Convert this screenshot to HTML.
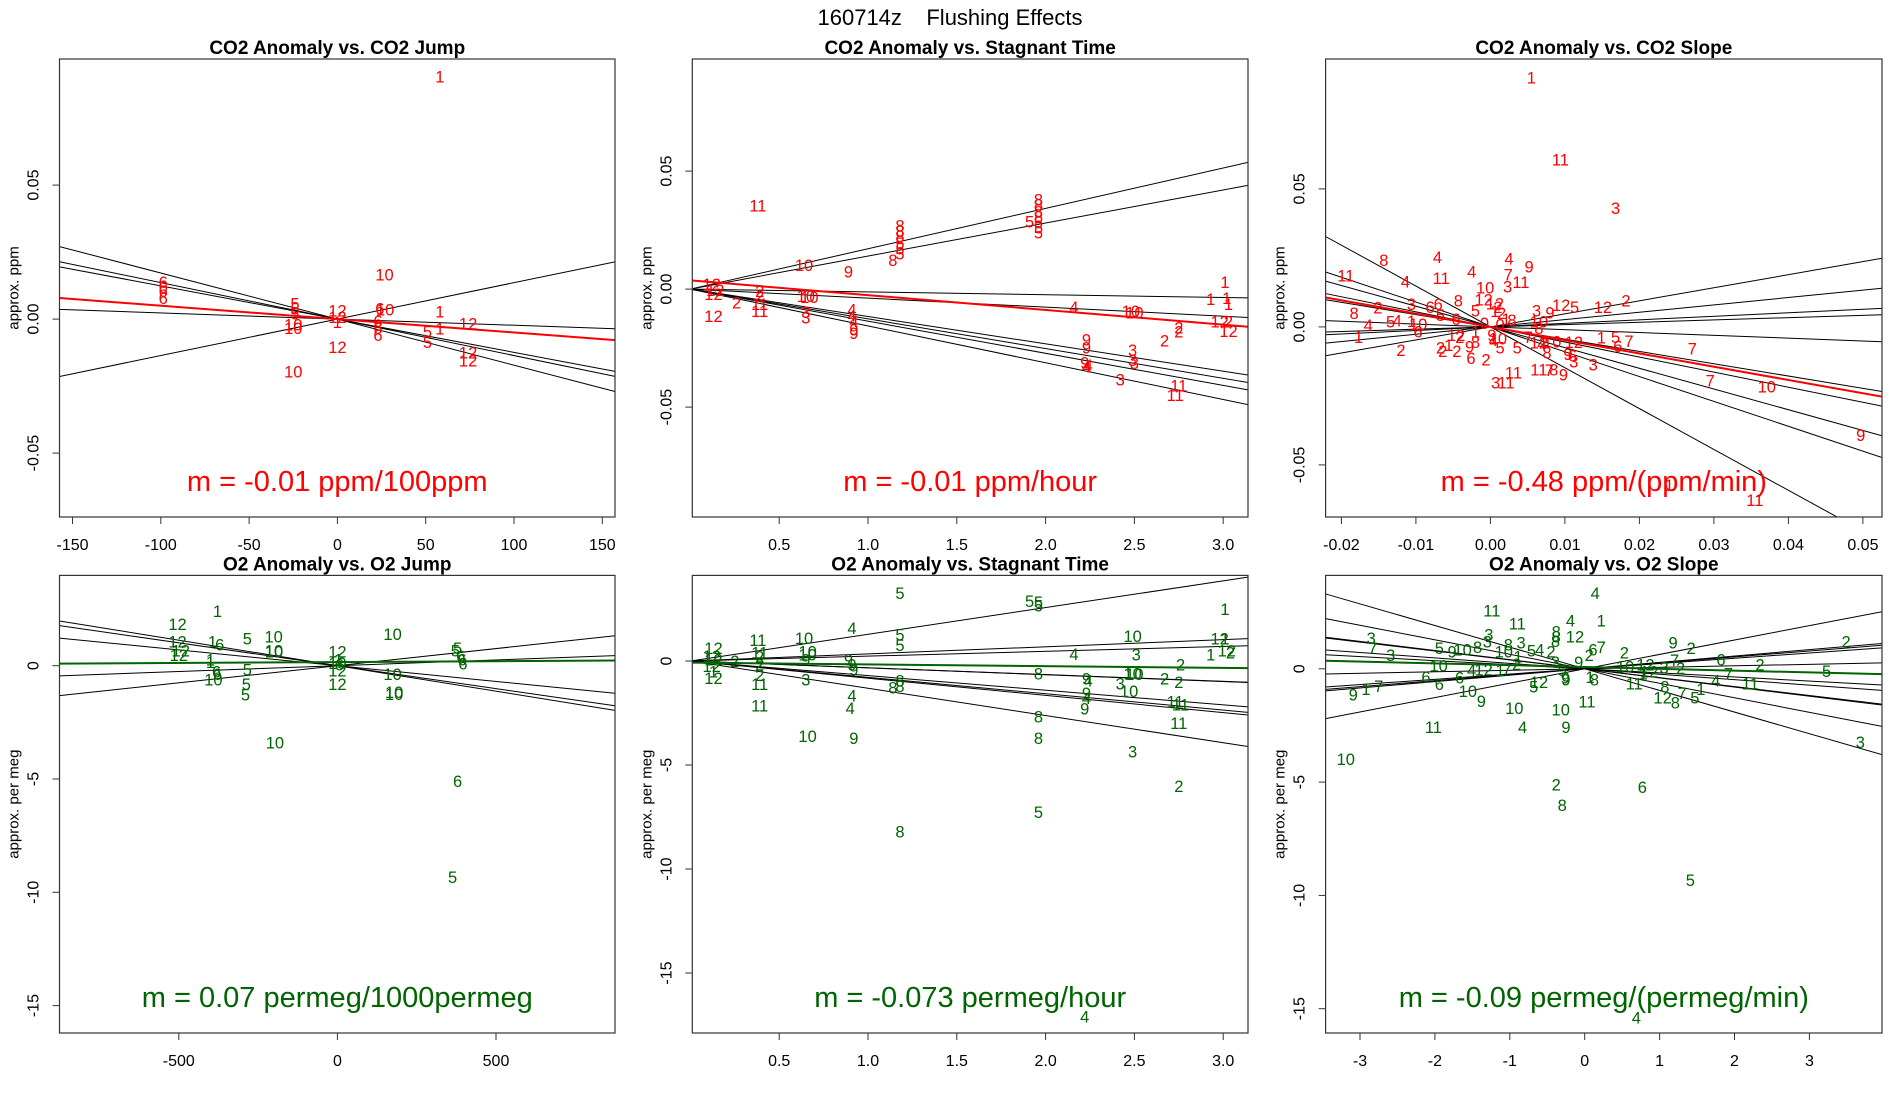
<!DOCTYPE html>
<html><head><meta charset="utf-8">
<style>
html,body{margin:0;padding:0;background:#fff;}
svg{display:block;font-family:"Liberation Sans",sans-serif;}
</style></head>
<body>
<svg id="chart" width="1900" height="1100" viewBox="0 0 1900 1100" xmlns="http://www.w3.org/2000/svg">
<text x="950" y="25" font-size="22" text-anchor="middle" style="white-space:pre" xml:space="preserve">160714z    Flushing Effects</text>
</svg>
<script>
// ---------- Panel 1: CO2 Anomaly vs. CO2 Jump ----------
const p1X=[58,26.7,-98.6,-98.6,-98.6,-98.6,-24,-24,-24,-25,-25,0,0,0,24,27,23,23,23,51,51,58,58,74,74,74,0,-25];
const p1Y=[0.0905,0.0167,0.0138,0.012,0.0105,0.0079,0.0059,0.0039,0.002,-0.002,-0.0033,0.0033,0.0007,-0.001,0.004,0.0035,-0.0007,-0.0033,-0.006,-0.0046,-0.0086,0.0029,-0.0036,-0.0017,-0.0125,-0.0155,-0.0105,-0.0195];
const p1L=["1","10","6","6","6","6","5","5","5","10","10","12","12","1","6","10","6","6","6","5","5","1","1","12","12","12","12","10"];
const p1Slopes=[-0.000172,-0.000136,-0.000124,-0.000023,0.000136];
const p1Fit=[-0.00005,0];
const p1XTicks=[-150,-100,-50,0,50,100,150];
const p1YTicks=[-0.05,0,0.05];
const p1YTickLabels=["-0.05","0.00","0.05"];

// ---------- Panel 2: CO2 Anomaly vs. Stagnant Time ----------
const p2X=[0.38,0.64,0.89,1.14,1.18,1.18,1.18,1.18,1.18,1.18,1.91,1.96,1.96,1.96,1.96,1.96,1.96,1.96,3.01,2.93,3.02,3.03,2.16,2.48,2.5,2.98,3.03,3.03,2.75,2.75,2.67,2.23,2.23,2.22,2.24,2.23,2.49,2.49,2.5,2.42,2.75,2.73,0.91,0.91,0.92,0.92,0.92,0.65,0.65,0.65,0.67,0.39,0.39,0.26,0.39,0.39,0.13,0.12,0.14,0.13];
const p2Y=[0.0355,0.0102,0.0075,0.0124,0.027,0.0247,0.0225,0.0195,0.0172,0.015,0.0287,0.0379,0.0359,0.0329,0.0307,0.0284,0.0262,0.024,0.003,-0.0042,-0.0037,-0.0063,-0.0075,-0.0093,-0.0099,-0.0138,-0.0138,-0.0177,-0.0162,-0.018,-0.0217,-0.0214,-0.0247,-0.0311,-0.0322,-0.0329,-0.0259,-0.03,-0.0314,-0.0382,-0.0409,-0.0449,-0.0087,-0.0112,-0.0135,-0.0172,-0.0187,-0.0097,-0.012,-0.003,-0.0034,-0.0007,-0.003,-0.0057,-0.0063,-0.0093,-0.0115,0.0022,-0.0004,-0.002];
const p2L=["11","10","9","8","8","8","8","5","5","5","5","8","8","8","8","5","5","5","1","1","1","1","4","10","10","12","2","12","2","2","2","9","9","9","4","4","3","3","3","3","11","11","4","4","4","9","9","3","3","10","10","2","2","2","11","11","12","12","12","12"];
const p2Slopes=[0.0171,0.0140,-0.00118,-0.00383,-0.0116,-0.0126,-0.0136,-0.0156];
const p2Fit=[-0.00626,0.0037];
const p2XTicks=[0.5,1.0,1.5,2.0,2.5,3.0];
const p2XTickLabels=["0.5","1.0","1.5","2.0","2.5","3.0"];
const p2YTicks=[-0.05,0,0.05];
const p2YTickLabels=["-0.05","0.00","0.05"];

// ---------- Panel 3: CO2 Anomaly vs. CO2 Slope ----------
const p3X=[0.0055,0.0094,0.0168,-0.0143,-0.0071,0.0025,0.0052,-0.0194,-0.0114,-0.0066,-0.0025,0.0024,-0.0007,0.0023,0.0041,-0.0009,-0.0043,-0.0106,-0.0081,-0.007,-0.0151,-0.0183,-0.0067,-0.0046,-0.002,-0.0164,-0.0134,-0.0125,-0.0106,-0.0097,-0.0097,-0.0177,-0.012,-0.0067,-0.0064,-0.0056,-0.0045,-0.0046,-0.0041,-0.0028,-0.002,-0.0026,-0.0006,-0.002,-0.0008,0.0006,0.001,0.0006,0.0015,0.0029,0.0021,0.0013,0.0002,0.001,0.0004,0.0013,0.0036,0.0062,0.008,0.0095,0.0113,0.0151,0.0182,0.0065,0.0065,0.0051,0.0065,0.0069,0.0083,0.0076,0.0112,0.0104,0.011,0.0112,0.0138,0.0031,0.0007,0.0021,0.0065,0.0079,0.0085,0.0098,0.0149,0.0168,0.0186,0.0171,0.0271,0.0295,0.0371,0.0497,0.024,0.0355];
const p3Y=[0.0903,0.0607,0.0431,0.0242,0.0254,0.0248,0.0219,0.0187,0.0165,0.0178,0.02,0.019,0.0142,0.0146,0.0162,0.01,0.0095,0.0083,0.0073,0.0083,0.007,0.005,0.0043,0.0028,0.006,0.0006,0.0019,0.0024,0.0022,0.0011,-0.0017,-0.0036,-0.0084,-0.0074,-0.0087,-0.0065,-0.0087,-0.0029,-0.0036,-0.0071,-0.0055,-0.0112,-0.0118,-0.0017,0.0015,0.0085,0.0073,0.0057,0.005,0.0025,0.0028,0.0009,-0.0029,-0.0042,-0.0048,-0.0074,-0.0074,0.006,0.0053,0.0079,0.0073,0.0073,0.0095,0.0019,-0.0004,-0.0036,-0.0057,-0.0061,-0.0052,-0.0093,-0.0055,-0.0099,-0.0103,-0.0125,-0.0137,-0.0166,-0.0201,-0.0201,-0.0154,-0.0156,-0.0154,-0.0172,-0.0038,-0.0036,-0.0051,-0.007,-0.0078,-0.0195,-0.0216,-0.0392,-0.0573,-0.0627];
const p3L=["1","11","3","8","4","4","9","11","4","11","4","7","10","3","11","12","8","3","6","6","2","8","5","6","5","4","5","4","1","10","6","1","2","2","2","1","2","12","2","9","8","6","2","1","0","12","2","1","2","8","1","0","9","10","4","5","5","3","9","12","5","12","2","10","8","7","12","4","10","8","12","9","6","3","3","11","3","11","11","7","8","9","1","5","7","6","7","7","10","9","1","11"];
const p3Slopes=[0.473,0.266,0.128,0.084,-0.102,-0.445,-0.546,-0.75,-0.9,-1.48];
const p3Fit=[-0.481,0];
const p3XTicks=[-0.02,-0.01,0,0.01,0.02,0.03,0.04,0.05];
const p3XTickLabels=["-0.02","-0.01","0.00","0.01","0.02","0.03","0.04","0.05"];
const p3YTicks=[-0.05,0,0.05];
const p3YTickLabels=["-0.05","0.00","0.05"];

// ---------- Panel 4: O2 Anomaly vs. O2 Jump ----------
const p4X=[-378,-504,-504,-494,-500,-394,-371,-400,-400,-381,-378,-391,-284,-284,-287,-290,-201,-200,-200,174,0,3,0,6,0,0,174,179,179,-197,379,372,389,393,396,379,363];
const p4Y=[2.41,1.83,1.06,0.67,0.47,1.06,0.93,0.28,0.16,-0.26,-0.37,-0.62,1.21,-0.16,-0.81,-1.27,1.29,0.67,0.62,1.4,0.62,0.28,0.12,0.05,-0.22,-0.81,-0.37,-1.16,-1.24,-3.4,0.78,0.67,0.43,0.28,0.09,-5.08,-9.32];
const p4L=["1","12","12","12","12","1","6","1","1","6","6","10","5","5","5","5","10","10","10","10","12","1","10","6","12","12","10","10","10","10","5","5","6","6","6","6","5"];
const p4Slopes=[-0.00225,-0.00202,-0.00139,0.00051,0.00151];
const p4Fit=[0.00008,0.16];
const p4XTicks=[-500,0,500];
const p4YTicks=[-15,-10,-5,0];

// ---------- Panel 5: O2 Anomaly vs. Stagnant Time ----------
const p5X=[1.18,1.91,1.96,1.96,3.01,0.91,0.38,0.64,1.18,1.18,2.49,0.13,0.39,0.66,0.66,3.01,2.98,3.02,3.04,2.93,2.16,2.51,0.12,0.13,0.25,0.12,0.13,0.13,0.39,0.39,0.39,0.65,0.89,0.91,0.92,0.65,0.39,0.39,1.96,2.76,2.23,2.24,2.49,2.5,2.42,2.67,2.75,1.18,1.18,1.14,2.47,2.23,2.23,2.22,2.73,2.76,2.75,0.91,0.9,1.96,0.66,0.92,1.96,2.49,2.75,1.96,1.18,2.22];
const p5Y=[3.27,2.88,2.83,2.66,2.49,1.58,1.02,1.1,1.27,0.76,1.19,0.63,0.42,0.46,0.32,1.07,1.07,0.51,0.42,0.31,0.34,0.31,0.25,0.08,0,-0.25,-0.51,-0.81,0.22,-0.17,-0.68,0.08,0.08,-0.17,-0.42,-0.9,-1.1,-2.15,-0.59,-0.17,-0.85,-0.93,-0.59,-0.63,-1.07,-0.85,-1.02,-0.93,-1.19,-1.27,-1.44,-1.53,-1.78,-2.29,-1.95,-2.08,-2.97,-1.66,-2.25,-2.66,-3.61,-3.69,-3.69,-4.36,-6.02,-7.25,-8.19,-17.1];
const p5L=["5","5","5","5","1","4","11","10","5","5","10","12","11","10","10","1","12","12","2","1","4","3","12","12","2","12","1","12","2","2","2","9","9","9","9","3","11","11","8","2","9","4","10","10","3","2","2","8","8","8","10","9","4","9","11","11","11","4","4","8","10","9","8","3","2","5","8","4"];
const p5Slopes=[1.284,0.342,0.233,-0.326,-0.33,-0.703,-0.786,-0.827,-1.31];
const p5Fit=[-0.083,-0.08];
const p5XTicks=[0.5,1.0,1.5,2.0,2.5,3.0];
const p5XTickLabels=["0.5","1.0","1.5","2.0","2.5","3.0"];
const p5YTicks=[-15,-10,-5,0];

// ---------- Panel 6: O2 Anomaly vs. O2 Slope ----------
const p6X=[0.14,-1.24,-0.9,-0.19,0.22,-0.38,-0.38,-0.39,-0.13,-2.85,-2.83,-2.59,-1.28,-1.3,-0.85,-1.02,-1.08,-0.89,-1.94,-1.77,-1.63,-1.43,-0.71,-0.6,-0.45,0.11,0.22,0.06,1.18,1.42,0.53,3.49,1.82,2.34,1.2,1.06,1.28,0.81,0.54,-1.95,-1.51,-1.35,-1.13,-1.04,-0.91,-0.39,-0.3,-0.08,-0.26,-0.25,-2.12,-1.94,-1.67,-3.09,-2.92,-2.75,-1.56,-1.38,-0.61,-0.68,-0.94,-0.32,0.03,0.07,0.13,0.66,0.78,0.86,1.07,1.04,1.21,1.3,1.47,1.55,1.75,1.92,2.21,3.23,3.68,-2.02,-0.83,-0.25,-3.19,-0.38,-0.3,0.77,1.41,0.69];
const p6Y=[3.35,2.57,2.01,2.13,2.13,1.64,1.43,1.23,1.43,1.36,0.92,0.61,1.51,1.2,1.15,1.07,0.76,0.55,0.92,0.76,0.86,0.97,0.81,0.86,0.76,0.86,0.97,0.61,1.17,0.92,0.73,1.2,0.42,0.19,0.39,0.06,0.03,0.19,0.11,0.14,-0.05,-0.02,-0.05,-0.02,0.22,0.3,-0.05,0.3,-0.39,-0.47,-0.36,-0.67,-0.39,-1.14,-0.9,-0.75,-0.98,-1.42,-0.59,-0.79,-1.73,-1.79,-1.45,-0.36,-0.48,-0.64,-0.2,-0.12,-0.79,-1.26,-1.48,-1.06,-1.26,-0.9,-0.51,-0.2,-0.64,-0.09,-3.24,-2.57,-2.57,-2.57,-3.99,-5.11,-6.0,-5.22,-9.31,-15.39];
const p6L=["4","11","11","4","1","8","8","8","12","3","7","3","3","3","3","8","10","1","5","9","10","8","5","4","2","6","7","2","9","2","2","2","6","2","7","3","2","12","10","10","4","12","1","7","2","3","5","9","9","9","6","6","6","9","1","7","10","9","12","5","10","10","11","1","8","11","1","12","8","12","8","7","5","1","4","7","11","5","3","11","4","9","10","2","8","6","5","4"];
const p6Slopes=[0.635,0.282,0.262,0.232,0.066,-0.18,-0.24,-0.393,-0.403,-0.64,-0.955];
const p6Fit=[-0.08,0.08];
const p6XTicks=[-3,-2,-1,0,1,2,3];
const p6YTicks=[-15,-10,-5,0];

const NS="http://www.w3.org/2000/svg";
const svg=document.getElementById('chart');
function mk(tag,attrs,parent){const e=document.createElementNS(NS,tag);for(const k in attrs)e.setAttribute(k,attrs[k]);(parent||svg).appendChild(e);return e;}

const panels=[
 {id:'co2-jump',title:'CO2 Anomaly vs. CO2 Jump',x0:59.5,x1:615,y0:59,y1:517,xz:337.4,xs:1.766,yz:319.1,ys:2680,
  X:p1X,Y:p1Y,L:p1L,S:p1Slopes,F:p1Fit,xt:p1XTicks,xtl:p1XTicks.map(String),yt:p1YTicks,ytl:p1YTickLabels,col:'#ff0000',ylab:'approx. ppm',m:'m = -0.01 ppm/100ppm'},
 {id:'co2-stagnant',title:'CO2 Anomaly vs. Stagnant Time',x0:692.3,x1:1248,y0:59,y1:517,xz:690.4,xs:177.6,yz:289.1,ys:2360,
  X:p2X,Y:p2Y,L:p2L,S:p2Slopes,F:p2Fit,xt:p2XTicks,xtl:p2XTickLabels,yt:p2YTicks,ytl:p2YTickLabels,col:'#ff0000',ylab:'approx. ppm',m:'m = -0.01 ppm/hour',xstart:0.01},
 {id:'co2-slope',title:'CO2 Anomaly vs. CO2 Slope',x0:1325.6,x1:1882,y0:59,y1:517,xz:1490.4,xs:7450,yz:326.9,ys:2760,
  X:p3X,Y:p3Y,L:p3L,S:p3Slopes,F:p3Fit,xt:p3XTicks,xtl:p3XTickLabels,yt:p3YTicks,ytl:p3YTickLabels,col:'#ff0000',ylab:'approx. ppm',m:'m = -0.48 ppm/(ppm/min)'},
 {id:'o2-jump',title:'O2 Anomaly vs. O2 Jump',x0:59.5,x1:615,y0:575.4,y1:1033,xz:337.4,xs:0.3172,yz:665.7,ys:22.66,
  X:p4X,Y:p4Y,L:p4L,S:p4Slopes,F:p4Fit,xt:p4XTicks,xtl:p4XTicks.map(String),yt:p4YTicks,ytl:p4YTicks.map(String),col:'#006400',ylab:'approx. per meg',m:'m = 0.07 permeg/1000permeg'},
 {id:'o2-stagnant',title:'O2 Anomaly vs. Stagnant Time',x0:692.3,x1:1248,y0:575.4,y1:1033,xz:690.4,xs:177.6,yz:661,ys:20.8,
  X:p5X,Y:p5Y,L:p5L,S:p5Slopes,F:p5Fit,xt:p5XTicks,xtl:p5XTickLabels,yt:p5YTicks,ytl:p5YTicks.map(String),col:'#006400',ylab:'approx. per meg',m:'m = -0.073 permeg/hour',xstart:0.01},
 {id:'o2-slope',title:'O2 Anomaly vs. O2 Slope',x0:1325.6,x1:1882,y0:575.4,y1:1033,xz:1584.7,xs:74.9,yz:668.8,ys:22.66,
  X:p6X,Y:p6Y,L:p6L,S:p6Slopes,F:p6Fit,xt:p6XTicks,xtl:p6XTicks.map(String),yt:p6YTicks,ytl:p6YTicks.map(String),col:'#006400',ylab:'approx. per meg',m:'m = -0.09 permeg/(permeg/min)'}
];

panels.forEach((p,i)=>{
  const g=mk('g',{});
  
  
  const sx=v=>p.xz+v*p.xs, sy=v=>p.yz-v*p.ys;
  const inv=px=>(px-p.xz)/p.xs;
  const cp=mk('clipPath',{id:'clip'+i},g);
  mk('rect',{x:p.x0,y:p.y0,width:p.x1-p.x0,height:p.y1-p.y0},cp);
  const t=mk('text',{x:(p.x0+p.x1)/2,y:p.y0-5,'font-size':19,'font-weight':'bold','text-anchor':'middle'},g);
  t.textContent=p.title;
  
  
  const pg=mk('g',{'clip-path':'url(#clip'+i+')'},g);
  const xa=p.xstart!==undefined?p.xstart:inv(p.x0), xb=inv(p.x1);
  p.S.forEach(s=>{
    const l=mk('line',{x1:sx(xa),y1:sy(s*xa),x2:sx(xb),y2:sy(s*xb),stroke:'#000','stroke-width':1},pg);
    
    
  });
  const fl=mk('line',{x1:sx(xa),y1:sy(p.F[1]+p.F[0]*xa),x2:sx(xb),y2:sy(p.F[1]+p.F[0]*xb),stroke:p.col,'stroke-width':2},pg);
  
  
  p.X.forEach((v,k)=>{
    const e=mk('text',{x:sx(v),y:sy(p.Y[k])+6,'font-size':16.5,fill:p.col,'text-anchor':'middle'},pg);
    e.textContent=p.L[k];
    
    
  });
  const box=mk('rect',{x:p.x0,y:p.y0,width:p.x1-p.x0,height:p.y1-p.y0,fill:'none',stroke:'#333','stroke-width':1.2},g);
  
  
  p.xt.forEach((v,k)=>{
    mk('line',{x1:sx(v),x2:sx(v),y1:p.y1,y2:p.y1+7,stroke:'#333'},g);
    const e=mk('text',{x:sx(v),y:p.y1+33,'font-size':16,'text-anchor':'middle'},g);
    e.textContent=p.xtl[k];
    
    
  });
  p.yt.forEach((v,k)=>{
    mk('line',{x1:p.x0-7,x2:p.x0,y1:sy(v),y2:sy(v),stroke:'#333'},g);
    const xx=p.x0-21, yy=sy(v);
    const e=mk('text',{x:xx,y:yy,'font-size':16,'text-anchor':'middle',transform:'rotate(-90 '+xx+' '+yy+')'},g);
    e.textContent=p.ytl[k];
    
    
  });
  const yl=p.x0-41, ym=(p.y0+p.y1)/2;
  const ya=mk('text',{x:yl,y:ym,'font-size':15,'text-anchor':'middle',transform:'rotate(-90 '+yl+' '+ym+')'},g);
  ya.textContent=p.ylab;
  
  
  const mt=mk('text',{x:(p.x0+p.x1)/2,y:p.y1-26,'font-size':29,fill:p.col,'text-anchor':'middle'},g);
  mt.textContent=p.m;
  
  
});
</script>
</body></html>
